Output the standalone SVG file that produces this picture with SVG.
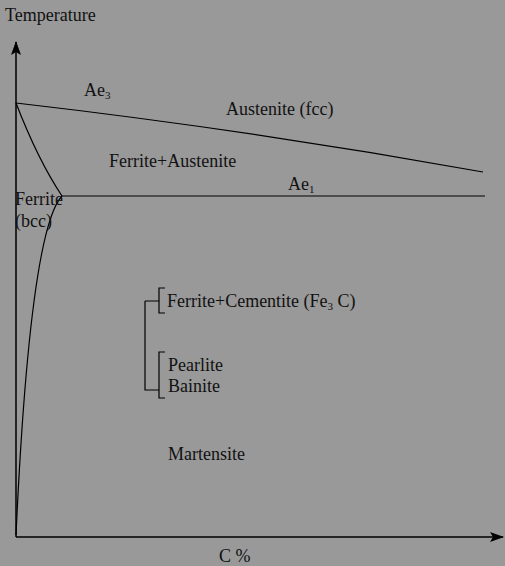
<svg xmlns="http://www.w3.org/2000/svg" width="505" height="566" viewBox="0 0 505 566">
  <style>
    text { font-family: "Liberation Serif", "Times New Roman", serif; font-size: 18px; fill: #111; }
    .sub { font-size: 11px; }
    .ln { fill: none; stroke: #000; stroke-width: 1.2; }
    .ax { fill: none; stroke: #000; stroke-width: 1.5; }
  </style>
  <defs>
    <marker id="arr" viewBox="0 0 14 10" refX="13" refY="5" markerWidth="14" markerHeight="10" markerUnits="userSpaceOnUse" orient="auto">
      <path d="M0,0 L14,5 L0,10 L3,5 Z" fill="#000"/>
    </marker>
  </defs>
  <rect width="505" height="566" fill="#999999"/>

  <g id="axes">
    <line class="ax" x1="16" y1="537" x2="16" y2="42" marker-end="url(#arr)"/>
    <line class="ax" x1="16" y1="537" x2="503" y2="537" marker-end="url(#arr)"/>
  </g>

  <g id="connectors">
    <!-- Ae3 line -->
    <path class="ln" d="M16,103 Q250,130 483,172"/>
    <!-- Ae1 line -->
    <line class="ln" x1="62" y1="196" x2="485" y2="196"/>
    <!-- ferrite / austenite boundary -->
    <path class="ln" d="M16,103 Q38,160 62,196"/>
    <!-- ferrite solubility curve -->
    <path class="ln" d="M62,196 Q30,230 16,535"/>
    <!-- brackets -->
    <path class="ln" d="M145,301 H159 M145,301 V390 H159"/>
    <path class="ln" d="M165,288 H159 V313 H165"/>
    <path class="ln" d="M165,352 H159 V398 H165"/>
  </g>

  <g id="labels">
    <text x="5" y="21">Temperature</text>
    <text x="84" y="96">Ae<tspan class="sub" dy="3">3</tspan></text>
    <text x="226" y="115">Austenite (fcc)</text>
    <text x="109" y="167">Ferrite+Austenite</text>
    <text x="288" y="190">Ae<tspan class="sub" dy="3">1</tspan></text>
    <text x="15" y="205">Ferrite</text>
    <text x="15" y="227">(bcc)</text>
    <text x="167" y="307">Ferrite+Cementite (Fe<tspan class="sub" dy="3">3</tspan><tspan dy="-3"> C)</tspan></text>
    <text x="168" y="371">Pearlite</text>
    <text x="168" y="392">Bainite</text>
    <text x="168" y="460">Martensite</text>
    <text x="219" y="562">C %</text>
  </g>
</svg>
